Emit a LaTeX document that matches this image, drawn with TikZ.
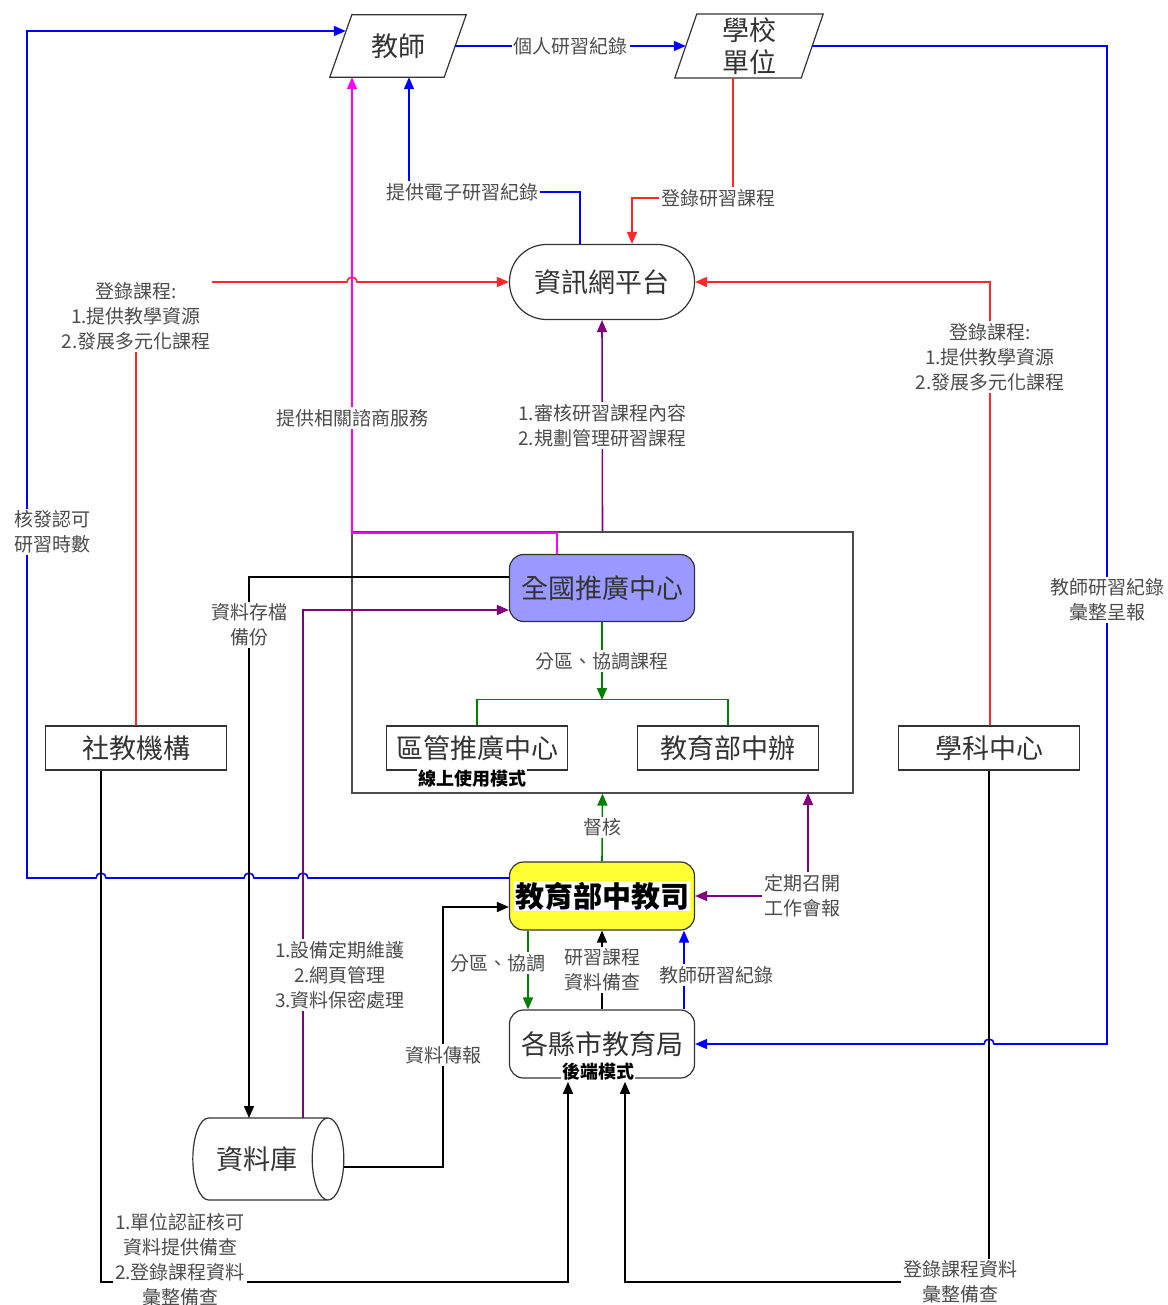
\documentclass[tikz,border=0pt]{standalone}
\usepackage{fontspec}
\setmainfont{Noto Sans CJK TC}
\usetikzlibrary{arrows.meta,shapes.geometric}
\definecolor{linkblue}{RGB}{0,0,255}
\definecolor{linkred}{RGB}{255,40,40}
\definecolor{linkpink}{RGB}{255,0,255}
\definecolor{linkpurple}{RGB}{128,0,128}
\definecolor{linkgreen}{RGB}{0,128,0}
\definecolor{nationfill}{RGB}{153,153,255}
\definecolor{moefill}{RGB}{255,255,51}
\begin{document}
\begin{tikzpicture}[x=1pt, y=1pt,
    line/.style={line width=1.6pt},
    flow/.style={line width=1.6pt, -{Triangle[length=12pt,width=10pt]}},
    lbl/.style={fill=white, inner sep=2pt, align=center, text=black!70, font=\fontsize{19}{25}\selectfont},
    unit/.style={draw=black!80, line width=1.2pt, minimum width=181pt, minimum height=44pt, text=black!80, font=\fontsize{27}{30}\selectfont},
    office/.style={unit, rounded corners=14pt, minimum width=185pt, minimum height=68pt},
    slanted/.style={minimum width=114pt, minimum height=62pt, align=center, text=black!80, font=\fontsize{27}{32}\selectfont},
    mode/.style={fill=white, inner sep=1pt, font=\fontsize{18}{20}\selectfont\bfseries}]
  \useasboundingbox (0,0) rectangle (1167,-1305);

  % frame of the promotion centres
  \node[draw=black!70, line width=1.2pt, minimum width=501pt, minimum height=261pt] (group) at (602.5,-662.5) {};

  % units
  \node[slanted] (teacher) at (398,-46) {教師};
  \draw[line width=1.2pt, black!80] ([xshift=11pt]teacher.north west) -- ([xshift=11pt]teacher.north east)
    -- ([xshift=-11pt]teacher.south east) -- ([xshift=-11pt]teacher.south west) -- cycle;
  \node[slanted, minimum width=126pt] (school) at (749,-46) {學校\\單位};
  \draw[line width=1.2pt, black!80] ([xshift=11pt]school.north west) -- ([xshift=11pt]school.north east)
    -- ([xshift=-11pt]school.south east) -- ([xshift=-11pt]school.south west) -- cycle;
  \node[unit, rounded corners=37pt, minimum width=185pt, minimum height=75pt] (web) at (602,-282) {資訊網平台};
  \node[office, fill=nationfill, minimum height=67pt] (national) at (602,-588) {全國推廣中心};
  \node[unit] (district) at (477,-748) {區管推廣中心};
  \node[unit] (central) at (728,-748) {教育部中辦};
  \node[unit] (social) at (136,-748) {社教機構};
  \node[unit] (subject) at (989,-748) {學科中心};
  \node[office, fill=moefill] (moe) at (602,-896) {\setlength{\fboxsep}{1pt}\colorbox{white}{\fontsize{29}{30}\selectfont\bfseries\color{black}教育部中教司}};
  \node[office, fill=white] (county) at (602,-1044) {各縣市教育局};
  \node[draw=black!80, line width=1.2pt, cylinder, shape aspect=1, minimum width=82pt, minimum height=151pt,
    text=black!80, font=\fontsize{27}{30}\selectfont] (database) at (257,-1159) {資料庫};
  \node[mode] (online) at (472,-779) {線上使用模式};
  \node[mode] (backend) at (598,-1072) {後端模式};

  % labels at line ends
  \node[lbl] (elec) at (462,-192) {提供電子研習紀錄};
  \node[lbl] (regcourse) at (718,-198) {登錄研習課程};
  \node[lbl] (meeting) at (802,-896) {定期召開\\工作會報};

  % blue
  \draw[flow, linkblue] ([yshift=18pt]moe.west) -- (308,-878) arc[start angle=0, end angle=180, radius=5pt]
    -- (254,-878) arc[start angle=0, end angle=180, radius=5pt]
    -- (106,-878) arc[start angle=0, end angle=180, radius=5pt]
    -- (27,-878) -- (27,-31) -- ([shift={(5pt,15pt)}]teacher.west);
  \draw[flow, linkblue] (teacher.east) -- node[lbl]{個人研習紀錄} (school.west);
  \draw[flow, linkblue] (school.east) -- (1107,-46) -- (1107,-1044)
    -- (994,-1044) arc[start angle=0, end angle=180, radius=5pt] -- (county.east);
  \draw[line, linkblue] ([xshift=-22pt]web.north) |- (elec.east);
  \draw[flow, linkblue] ([xshift=-53pt]elec.north) -- ([xshift=11pt]teacher.south);
  \draw[flow, linkblue] ([xshift=82pt]county.north) -- ([xshift=82pt]moe.south);

  % red
  \draw[line, linkred] ([xshift=-16pt]school.south) -- ([xshift=15pt]regcourse.north);
  \draw[flow, linkred] (regcourse.west) -| ([xshift=30pt]web.north);
  \draw[flow, linkred] (social.north) |- (347,-282) arc[start angle=180, end angle=0, radius=5pt] -- (web.west);
  \draw[flow, linkred] ([xshift=1pt]subject.north) |- (web.east);

  % purple and pink
  \draw[flow, linkpurple] (group.north) -- node[lbl]{1.審核研習課程內容\\2.規劃管理研習課程} (web.south);
  \draw[flow, linkpink] ([xshift=-45pt]national.north) |- (352,-533) -- ([xshift=-46pt]teacher.south);
  \draw[flow, linkpurple] (303,-1118) |- ([yshift=-22pt]national.west);
  \draw[flow, linkpurple] ([xshift=6pt]meeting.north) -- (808,-793);
  \draw[flow, linkpurple] (meeting.west) -- (moe.east);

  % green
  \draw[flow, linkgreen] (national.south) -- node[lbl]{分區、協調課程} (602,-700);
  \draw[line, linkgreen] (district.north) -- ++(0,26) -| (central.north);
  \draw[flow, linkgreen] (moe.north) -- node[lbl]{督核} (group.south);
  \draw[flow, linkgreen] ([xshift=-74pt]moe.south) -- ([xshift=-74pt]county.north);

  % black
  \draw[flow] ([yshift=11pt]national.west) -| (249,-1118);
  \draw[flow] (county.north) -- node[lbl]{研習課程\\資料備查} (moe.south);
  \draw[flow] ([yshift=-8pt]database.east) -| (443,-907) -- ([yshift=-11pt]moe.west);
  \draw[flow] ([xshift=-35pt]social.south) -- (101,-1282) -| ([xshift=-30pt]backend.south);
  \draw[flow] (subject.south) -- (989,-1282) -| ([xshift=27pt]backend.south);

  % labels over lines
  \node[lbl] (verify) at (52,-532) {核發認可\\研習時數};
  \node[lbl] (regleft) at (136,-316) {登錄課程:\\1.提供教學資源\\2.發展多元化課程};
  \node[lbl] (regright) at (990,-357) {登錄課程:\\1.提供教學資源\\2.發展多元化課程};
  \node[lbl] (consult) at (352,-418) {提供相關諮商服務};
  \node[lbl] (archive) at (249,-625) {資料存檔\\備份};
  \node[lbl] (maint) at (340,-975) {1.設備定期維護\\2.網頁管理\\3.資料保密處理};
  \node[lbl] (report) at (1107,-600) {教師研習紀錄\\彙整呈報};
  \node[lbl] (zone) at (498,-963) {分區、協調};
  \node[lbl] (recordup) at (716,-975) {教師研習紀錄};
  \node[lbl] (transfer) at (443,-1055) {資料傳報};
  \node[lbl] (certify) at (180,-1260) {1.單位認証核可\\資料提供備查\\2.登錄課程資料\\彙整備查};
  \node[lbl] (summary) at (960,-1282) {登錄課程資料\\彙整備查};
\end{tikzpicture}
\end{document}
